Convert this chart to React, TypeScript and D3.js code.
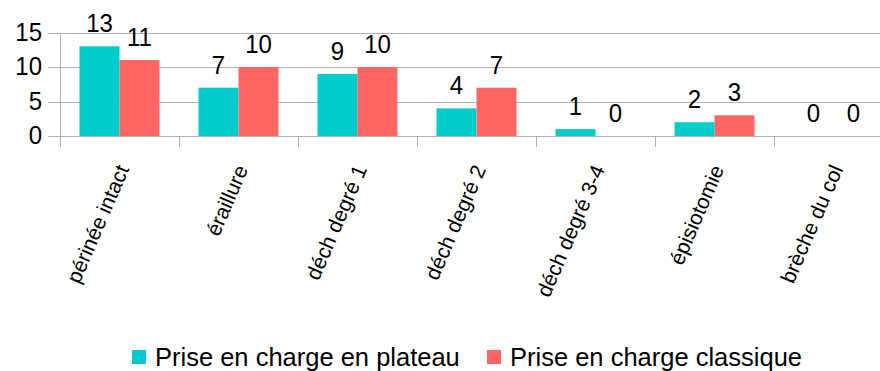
import React from "react";
import * as d3 from "d3";

const categories = [
  "périnée intact",
  "éraillure",
  "déch degré 1",
  "déch degré 2",
  "déch degré 3-4",
  "épisiotomie",
  "brèche du col",
];
const seriesNames = ["Prise en charge en plateau", "Prise en charge classique"];
const plateau = [13, 7, 9, 4, 1, 2, 0];
const classique = [11, 10, 10, 7, 0, 3, 0];
const yTicks = [0, 5, 10, 15];
const colors = ["#00CCCC", "#FF6666"];

const W = 880;
const H = 371;
const FONT = "'Liberation Sans', Arial, sans-serif";

export default function App() {
  const x0 = d3.scaleBand<string>().domain(categories).range([60, 893]).paddingInner(0).paddingOuter(0);
  const x1 = d3
    .scaleBand<string>()
    .domain(seriesNames)
    .range([0, x0.bandwidth()])
    .paddingInner(0)
    .paddingOuter(0.4875);
  const y = d3.scaleLinear().domain([0, 15]).range([136, 32.5]);
  const series = [plateau, classique];
  const grid = "#b3b3b3";

  return (
    <svg
      width={W}
      height={H}
      style={{ position: "absolute", left: 0, top: 0, background: "#fff" }}
      fontFamily={FONT}
    >
      {/* gridlines */}
      {yTicks.map((t) => (
        <line key={"g" + t} x1={48} x2={W} y1={Math.round(y(t)) + 0.5} y2={Math.round(y(t)) + 0.5} stroke={grid} strokeWidth={1} />
      ))}
      {/* y axis line */}
      <line x1={60.5} x2={60.5} y1={Math.round(y(15))} y2={147} stroke={grid} strokeWidth={1} />
      {/* category ticks */}
      {categories.map((c) => (
        <line
          key={"t" + c}
          x1={Math.round(x0(c)!) + 0.5}
          x2={Math.round(x0(c)!) + 0.5}
          y1={136}
          y2={147}
          stroke={grid}
        />
      ))}
      {/* y tick labels */}
      {yTicks.map((t) => (
        <text key={"yl" + t} x={42} y={y(t) + 8.5} textAnchor="end" fontSize={24} fill="#000"
          transform={`translate(0,${(y(t) + 8.5) * -0.06}) scale(1,1.06)`}>
          {t}
        </text>
      ))}
      {/* bars */}
      {categories.map((c, i) =>
        series.map((s, j) => {
          const bx = x0(c)! + x1(seriesNames[j])!;
          const v = s[i];
          const ly = y(v) - 14;
          return (
            <g key={c + j}>
              {v > 0 && (
                <rect x={bx} y={y(v)} width={x1.bandwidth()} height={y(0) - y(v)} fill={colors[j]} />
              )}
              <text
                x={bx + x1.bandwidth() / 2}
                y={ly}
                textAnchor="middle"
                fontSize={24}
                fill="#000"
                transform={`translate(0,${ly * -0.06}) scale(1,1.06)`}
              >
                {v}
              </text>
            </g>
          );
        })
      )}
      {/* category labels */}
      {categories.map((c) => {
        const cx = x0(c)! + x0.bandwidth() / 2 + 10;
        const cy = 169;
        return (
          <text
            key={"cl" + c}
            transform={`translate(${cx},${cy}) rotate(-66.5)`}
            textAnchor="end"
            fontSize={21}
            fill="#000"
          >
            {c}
          </text>
        );
      })}
      {/* legend */}
      <rect x={132} y={350} width={14} height={14} fill={colors[0]} />
      <text x={155} y={366} fontSize={25.5} fill="#000">
        {seriesNames[0]}
      </text>
      <rect x={487} y={350} width={14} height={14} fill={colors[1]} />
      <text x={510} y={366} fontSize={25.5} fill="#000">
        {seriesNames[1]}
      </text>
    </svg>
  );
}
